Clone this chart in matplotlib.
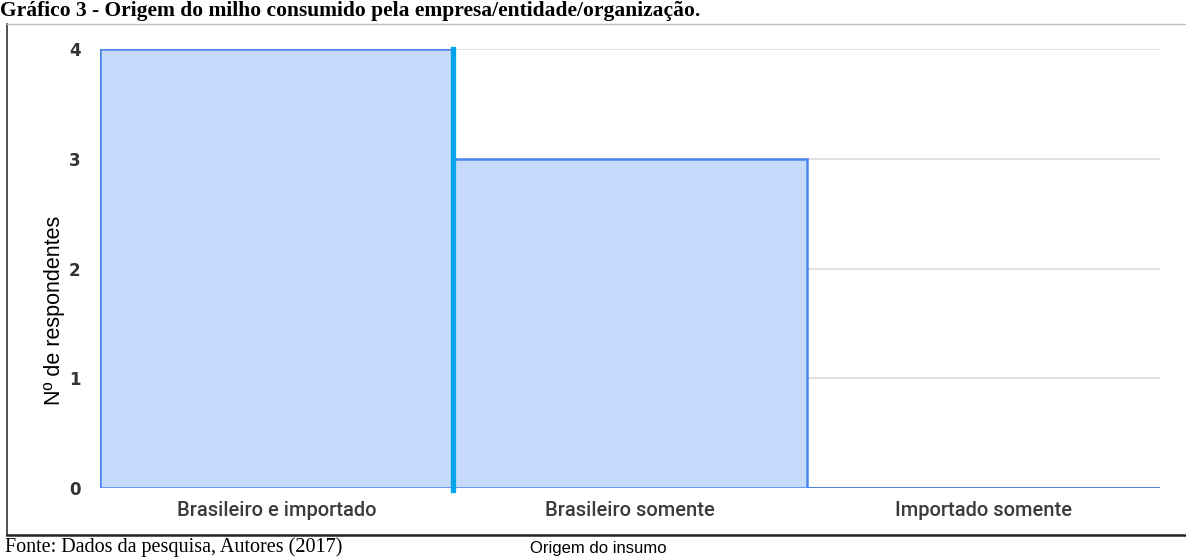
"""
Bar chart: origem do milho consumido (Gráfico 3).
"""

import matplotlib.pyplot as plt
from matplotlib.lines import Line2D

categories = ['Brasileiro e importado', 'Brasileiro somente', 'Importado somente']
respondents = [4, 3, 0]
y_ticks = [0, 1, 2, 3, 4]
y_tick_labels = ['0', '1', '2', '3', '4']

title = 'Gráfico 3 - Origem do milho consumido pela empresa/entidade/organização.'
source = 'Fonte: Dados da pesquisa, Autores (2017)'

W, H = 1186, 558


def fx(px):
    return px / W


def fy(py):
    return 1 - py / H


def main():
    fig = plt.figure(figsize=(W / 100, H / 100), dpi=100)
    ax = fig.add_axes([fx(100), fy(488), fx(1160) - fx(100), fy(49) - fy(488)])

    # frame of the figure box in the document
    fig.add_artist(Line2D([fx(7), fx(7)], [fy(24), fy(535)],
                          transform=fig.transFigure, color='#333333', lw=1.2))
    fig.add_artist(Line2D([fx(7), 1], [fy(24), fy(24)],
                          transform=fig.transFigure, color='#bbbbbb', lw=1.0))
    fig.add_artist(Line2D([fx(7), 1], [fy(535), fy(535)],
                          transform=fig.transFigure, color='#222222', lw=1.8))

    x = list(range(len(categories)))
    ax.bar(x, respondents, width=1.0, color='#c6dafc', edgecolor='#4a86f0',
           linewidth=1.8, zorder=2)
    ax.axvline(0.5, ymin=-0.005, ymax=1, color='#03a4e8', lw=3.8, zorder=3,
               clip_on=False)

    for v in y_ticks[1:]:
        ax.axhline(v, color='#dcdcdc', lw=1.2, zorder=1)
    ax.axhline(0, color='#777777', lw=1.4, zorder=1)

    ax.set_xlim(-0.5, 2.5)
    ax.set_ylim(0, 4)
    ax.set_xticks(x)
    ax.set_xticklabels(categories, fontfamily='Roboto', fontsize=14.5,
                       fontweight='medium', color='#3c3c3c')
    ax.set_yticks(y_ticks)
    ax.set_yticklabels(y_tick_labels, fontfamily='DejaVu Sans', fontsize=12,
                       fontweight='bold', color='#333333')
    ax.tick_params(length=0)
    ax.tick_params(axis='x', pad=9)
    ax.tick_params(axis='y', pad=14)
    for s in ax.spines.values():
        s.set_visible(False)

    ax.set_ylabel('Nº de respondentes', fontfamily='Liberation Sans',
                  fontsize=15.5)
    ax.yaxis.set_label_coords(-0.033, 0.405)

    fig.text(fx(598), fy(541), 'Origem do insumo', ha='center', va='top',
             fontfamily='Liberation Sans', fontsize=12)
    fig.text(0.0, fy(1), title, ha='left', va='top',
             fontfamily='Liberation Serif', fontweight='bold', fontsize=15.5)
    fig.text(fx(5), fy(557), source, ha='left', va='bottom',
             fontfamily='Liberation Serif', fontsize=14.5)

    fig.savefig('out.png', dpi=100)
    plt.close('all')


if __name__ == '__main__':
    main()
